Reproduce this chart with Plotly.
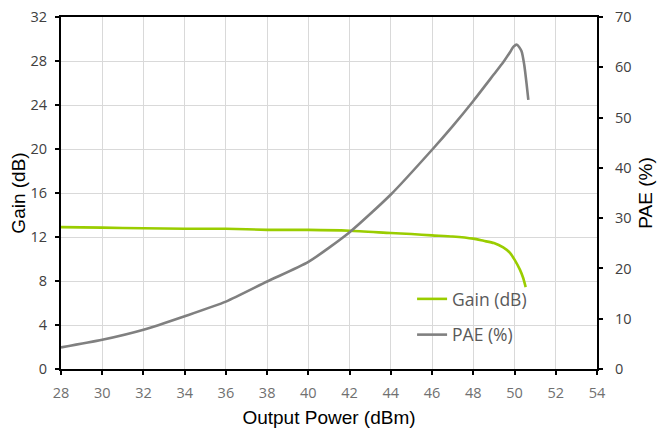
import plotly.graph_objects as go

gain_x = [28, 30, 32, 34, 36, 38, 40, 42, 44, 45, 46, 47, 48, 48.5, 49, 49.45, 49.78, 50.0, 50.26, 50.42, 50.54]
gain_y = [12.9, 12.85, 12.8, 12.75, 12.75, 12.65, 12.65, 12.57, 12.36, 12.27, 12.15, 12.05, 11.85, 11.65, 11.45, 11.05, 10.55, 9.94, 9.03, 8.27, 7.45]

pae_x = [28, 30, 32, 34, 36, 38, 40, 42, 44, 46, 47, 48, 49, 49.45, 49.78, 49.95, 50.12, 50.34, 50.47, 50.59, 50.67]
pae_y = [4.3, 5.8, 7.8, 10.5, 13.4, 17.4, 21.3, 27.2, 34.7, 43.6, 48.3, 53.3, 58.6, 61.0, 63.0, 64.1, 64.5, 63.2, 60.5, 56.5, 53.5]

x_ticks = list(range(28, 55, 2))
gain_ticks = list(range(0, 33, 4))
pae_ticks = list(range(0, 71, 10))

fig = go.Figure()
fig.add_trace(go.Scatter(x=gain_x, y=gain_y, name="Gain (dB)", mode="lines",
                         line=dict(color="#9ACD00", width=2.6, shape="spline", smoothing=0.6),
                         legendgroup="g", yaxis="y"))
fig.add_trace(go.Scatter(x=pae_x, y=pae_y, name="PAE (%)", mode="lines",
                         line=dict(color="#808080", width=2.6, shape="spline", smoothing=0.6),
                         legendgroup="p", yaxis="y2"))

tick_font = dict(family="Open Sans, DejaVu Sans, sans-serif", size=14.5, color="#404040")
title_font = dict(family="Liberation Sans, Arial, sans-serif", size=19, color="#000000")

fig.update_layout(
    width=657, height=428,
    margin=dict(l=61, r=60, t=17, b=59),
    paper_bgcolor="white", plot_bgcolor="white",
    showlegend=True,
    legend=dict(x=0.655, y=0.25, xanchor="left", yanchor="top",
                bgcolor="rgba(0,0,0,0)", traceorder="grouped", tracegroupgap=10,
                font=dict(family="Open Sans, DejaVu Sans, sans-serif", size=17.5, color="#595959")),
    xaxis=dict(range=[28, 54], tickvals=x_ticks, ticktext=[str(v) for v in x_ticks],
               showgrid=True, gridcolor="#D9D9D9", gridwidth=1,
               showline=True, linecolor="black", linewidth=2, mirror=True,
               ticks="outside", ticklen=4, tickwidth=1.5, tickcolor="black",
               ticklabelstandoff=6, automargin=False,
               tickfont=dict(family="Open Sans, DejaVu Sans, sans-serif", size=14.5, color="#707070"),
               title=dict(text="Output Power (dBm)", font=title_font, standoff=10),
               zeroline=False),
    yaxis=dict(range=[0, 32], tickvals=gain_ticks, ticktext=[str(v) for v in gain_ticks],
               showgrid=True, gridcolor="#D9D9D9", gridwidth=1,
               showline=True, linecolor="black", linewidth=2,
               ticks="outside", ticklen=4, tickwidth=1.5, tickcolor="black",
               ticklabelstandoff=5, automargin=False,
               tickfont=tick_font,
               title=dict(text="Gain (dB)", font=title_font, standoff=0),
               zeroline=False),
    yaxis2=dict(range=[0, 70], tickvals=pae_ticks, ticktext=[str(v) for v in pae_ticks],
                overlaying="y", side="right", showgrid=False,
                showline=True, linecolor="black", linewidth=2,
                ticks="outside", ticklen=4, tickwidth=1.5, tickcolor="black",
                ticklabelstandoff=9, automargin=False,
                tickfont=tick_font,
                title=dict(text="PAE (%)", font=title_font, standoff=8),
                zeroline=False),
)

fig.write_html("out.html")
